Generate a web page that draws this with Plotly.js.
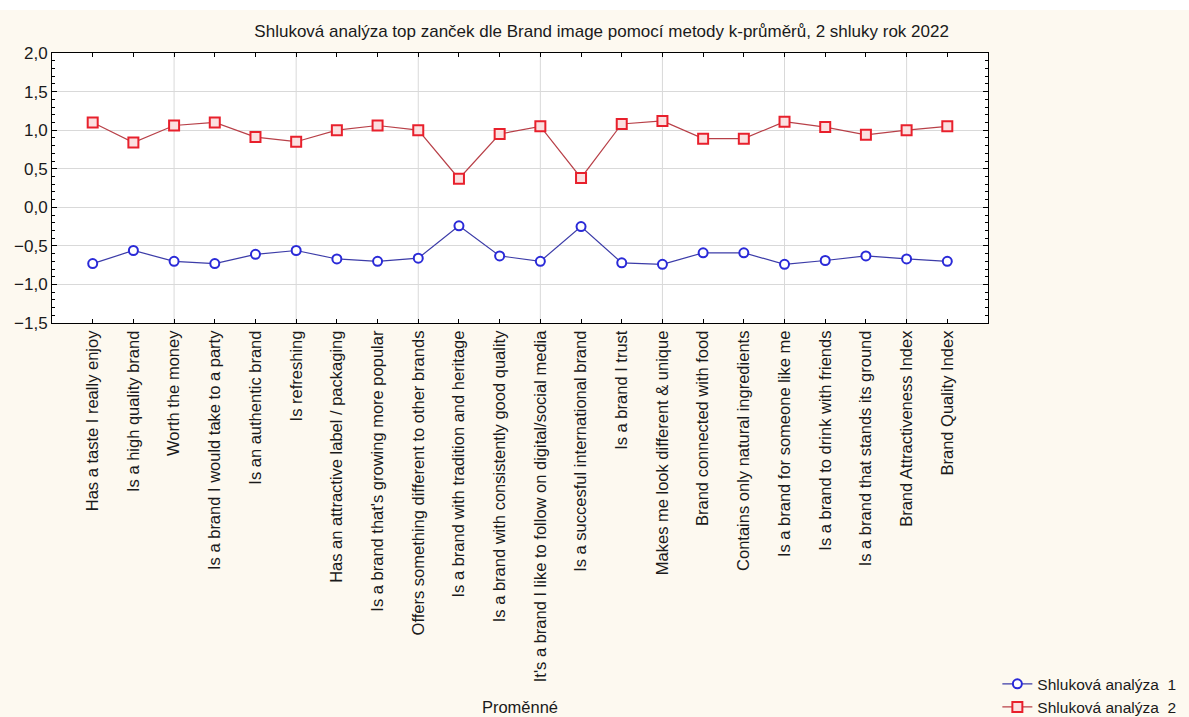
<!DOCTYPE html>
<html>
<head>
<meta charset="utf-8">
<script src="https://cdn.plot.ly/plotly-3.0.1.min.js"></script>
<style>
  html, body { margin: 0; padding: 0; background: #ffffff; }
  #chart { position: absolute; left: 0; top: 10px; width: 1189px; height: 707px; }
</style>
</head>
<body>
<div id="chart"></div>
<script>
const categories = [
  "Has a taste I really enjoy",
  "Is a high quality brand",
  "Worth the money",
  "Is a brand I would take to a party",
  "Is an authentic brand",
  "Is refreshing",
  "Has an attractive label / packaging",
  "Is a brand that's growing more popular",
  "Offers something different to other brands",
  "Is a brand with tradition and heritage",
  "Is a brand with consistently good quality",
  "It's a brand I like to follow on digital/social media",
  "Is a succesful international brand",
  "Is a brand I trust",
  "Makes me look different & unique",
  "Brand connected with food",
  "Contains only natural ingredients",
  "Is a brand for someone like me",
  "Is a brand to drink with friends",
  "Is a brand that stands its ground",
  "Brand Attractiveness Index",
  "Brand Quality Index"
];
const cluster1 = [-0.73, -0.56, -0.70, -0.73, -0.61, -0.56, -0.67, -0.70, -0.66, -0.24, -0.63,
                  -0.70, -0.25, -0.72, -0.74, -0.59, -0.59, -0.74, -0.69, -0.63, -0.67, -0.70];
const cluster2 = [1.10, 0.84, 1.06, 1.10, 0.91, 0.85, 1.00, 1.06, 1.00, 0.37, 0.95,
                  1.05, 0.38, 1.08, 1.12, 0.89, 0.89, 1.11, 1.04, 0.94, 1.00, 1.05];
const seriesNames = ["Shluková analýza  1", "Shluková analýza  2"];
const yTickVals = [-1.5, -1.0, -0.5, 0.0, 0.5, 1.0, 1.5, 2.0];
const titleText = "Shluková analýza top zanček dle Brand image pomocí metody k-průměrů, 2 shluky rok 2022";
const xTitle = "Proměnné";

const idx = categories.map((c, i) => i);
const FONT = "Liberation Sans, Arial, sans-serif";

const traces = [
  {
    x: idx, y: cluster1, name: seriesNames[0], type: "scatter", mode: "lines+markers",
    line: { color: "#3c3ca8", width: 1.2 },
    marker: { symbol: "circle", size: 9, color: "#ffffff", line: { color: "#2a2ad8", width: 2 } }
  },
  {
    x: idx, y: cluster2, name: seriesNames[1], type: "scatter", mode: "lines+markers",
    line: { color: "#b84048", width: 1.2 },
    marker: { symbol: "square", size: 10, color: "#fbe0e0", line: { color: "#e8202c", width: 2 } }
  }
];

// vertical grid lines every third category (as in the original software)
const gridShapes = idx.filter(i => i % 3 === 2).map(i => ({
  type: "line", xref: "x", yref: "paper", x0: i, x1: i, y0: 0, y1: 1,
  line: { color: "#d9d9d9", width: 1 }, layer: "below"
}));

const layout = {
  width: 1189, height: 707,
  paper_bgcolor: "#fdf9f0",
  plot_bgcolor: "#ffffff",
  separators: ", ",
  font: { family: FONT, size: 16, color: "#1a1a1a" },
  margin: { l: 52, r: 201, t: 43, b: 394, autoexpand: false },
  title: { text: titleText, font: { family: FONT, size: 17, color: "#1a1a1a" },
           x: 0.506, xanchor: "center", y: 0.97, yanchor: "middle", yref: "container" },
  showlegend: true,
  legend: { x: 1.010, xanchor: "left", y: -1.486, yanchor: "bottom",
            bgcolor: "rgba(0,0,0,0)", font: { family: FONT, size: 15.5, color: "#1a1a1a" },
            tracegroupgap: 0, itemwidth: 30 },
  shapes: gridShapes,
  xaxis: {
    range: [-1, 22], tickmode: "array", tickvals: idx, ticktext: categories,
    tickangle: -90, tickfont: { family: FONT, size: 16.5, color: "#1a1a1a" },
    showgrid: false, zeroline: false,
    showline: true, linecolor: "#000000", linewidth: 1, mirror: "ticks",
    ticks: "inside", ticklen: 4, tickcolor: "#000000",
    title: { text: xTitle, font: { family: FONT, size: 16.5, color: "#1a1a1a" }, standoff: 20 },
    automargin: false
  },
  yaxis: {
    range: [-1.5, 2.0], tickmode: "array", tickvals: yTickVals, tickformat: ".1f",
    tickfont: { family: FONT, size: 17, color: "#1a1a1a" },
    showgrid: true, gridcolor: "#d9d9d9", gridwidth: 1, zeroline: false,
    showline: true, linecolor: "#000000", linewidth: 1, mirror: "ticks",
    ticks: "inside", ticklen: 5, tickcolor: "#000000",
    minor: { dtick: 0.1, ticks: "inside", ticklen: 3, tickcolor: "#000000", showgrid: false },
    automargin: false
  }
};

Plotly.newPlot("chart", traces, layout, { displayModeBar: false, staticPlot: true });
</script>
</body>
</html>
